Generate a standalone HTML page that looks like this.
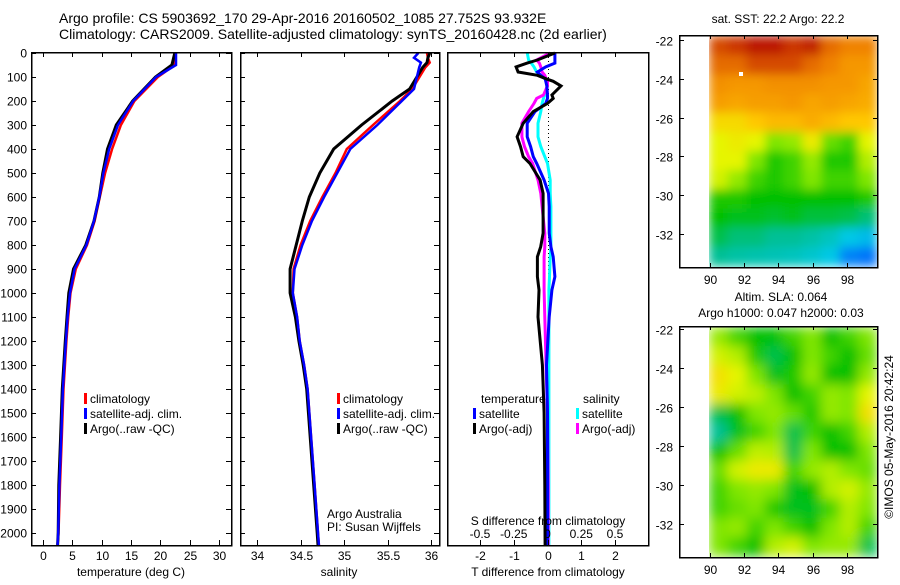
<!DOCTYPE html>
<html><head><meta charset="utf-8">
<style>
html,body{margin:0;padding:0;background:#fff;}
svg text{font-family:"Liberation Sans",sans-serif;font-size:12px;fill:#000;}
</style></head>
<body>
<svg id="fig" width="900" height="580" viewBox="0 0 900 580" xmlns="http://www.w3.org/2000/svg" shape-rendering="crispEdges">
<text x="59" y="23" style="font-size:14px">Argo profile: CS 5903692_170 29-Apr-2016 20160502_1085 27.752S 93.932E</text>
<text x="59" y="39" style="font-size:14px">Climatology: CARS2009. Satellite-adjusted climatology: synTS_20160428.nc (2d earlier)</text>
<g id="p1"></g>
<g id="p2"></g>
<g id="p3"></g>
<g id="m1"></g>
<g id="m2"></g>
<text transform="translate(893,437) rotate(-90)" text-anchor="middle">©IMOS 05-May-2016 20:42:24</text>
</svg>
<script>
// ---- data ----
const tDepth = [0,50,100,200,300,400,500,600,700,800,900,1000,1100,1200,1400,1600,1800,2000,2050];
const tClim  = [22.5,22.5,19.6,15.6,13.3,11.8,10.6,9.7,8.8,7.5,5.6,4.7,4.3,4.0,3.5,3.2,2.9,2.65,2.5];
const tSat   = [22.7,22.7,19.3,15.4,12.8,11.3,10.3,9.6,8.7,7.4,5.4,4.6,4.2,3.9,3.4,3.1,2.8,2.6,2.5];
const tArgo  = [22.5,22.0,19.2,15.3,12.5,11.0,10.2,9.6,8.7,7.3,5.2,4.4,4.1,3.8,3.3,3.0,2.7,2.6,2.5];
const sDepth = [0,20,40,60,150,200,300,400,500,600,700,800,900,1000,1100,1200,1300,1400,1600,1800,2000,2050];
const sClim  = [35.95,35.96,35.98,35.93,35.78,35.64,35.33,35.03,34.9,34.75,34.61,34.5,34.42,34.41,34.46,34.49,34.54,34.58,34.62,34.66,34.7,34.71];
const sSat   = [35.85,35.8,35.88,35.86,35.8,35.66,35.38,35.07,34.92,34.77,34.63,34.52,34.43,34.41,34.46,34.49,34.54,34.58,34.62,34.66,34.7,34.71];
const sArgo  = [35.98,35.96,35.95,35.9,35.75,35.55,35.2,34.88,34.72,34.6,34.52,34.45,34.38,34.38,34.44,34.48,34.53,34.57,34.61,34.65,34.69,34.7];
const dDepth = [0,29,42,58,79,93,107,118,137,175,189,210,244,293,349,390,432,460,529,585,640,751,807,849,932,988,1100,1300,1500,1800,2050];
const dTArgo = [0.22,-0.3,-0.6,-0.93,-0.87,-0.3,-0.05,0.17,0.4,0.13,0.17,0.0,-0.42,-0.72,-0.9,-0.8,-0.72,-0.52,-0.22,-0.13,-0.13,-0.13,-0.2,-0.3,-0.3,-0.25,-0.28,-0.15,-0.1,-0.08,-0.07];
const dTSat  = [0.22,0.22,0.22,-0.05,-0.3,-0.2,-0.07,-0.05,-0.02,0.0,0.0,-0.05,-0.37,-0.6,-0.6,-0.5,-0.42,-0.32,-0.1,0.03,0.05,0.05,0.1,0.17,0.22,0.13,0.05,-0.03,0.0,0.0,0.0];
const dSArgo = [0.02,-0.08,-0.06,-0.05,-0.04,-0.02,-0.01,0.0,0.0,-0.03,-0.08,-0.1,-0.14,-0.19,-0.19,-0.17,-0.14,-0.11,-0.07,-0.05,-0.04,-0.02,-0.02,-0.025,-0.025,-0.025,-0.02,-0.01,0.0,0.005,0.005];
const dSSat  = [-0.15,-0.14,-0.12,-0.1,-0.08,-0.05,-0.02,0.0,0.0,-0.02,-0.03,-0.04,-0.05,-0.07,-0.07,-0.05,-0.02,0.0,0.02,0.02,0.025,0.025,0.025,0.02,0.015,0.01,0.01,0.01,0.01,0.01,0.01];
const depthTicks = [0,100,200,300,400,500,600,700,800,900,1000,1100,1200,1300,1400,1500,1600,1700,1800,1900,2000];
const tTicks = [0,5,10,15,20,25,30];
const sTicks = [34,34.5,35,35.5,36];
const dTTicks = [-2,-1,0,1,2];
const dSTicks = [-0.5,-0.25,0,0.25,0.5];
const dSTickLabels = ["-0.5","-0.25","0","0.25","0.5"];
const lonTicks = [90,92,94,96,98];
const latTicks = [-22,-24,-26,-28,-30,-32];
const sstGrid = [
 [.93,.95,.98,.98,.95,.97,.9,.88,.88],
 [.9,.9,.93,.93,.93,.9,.88,.85,.85],
 [.86,.85,.85,.86,.86,.86,.85,.85,.83],
 [.84,.83,.84,.84,.85,.83,.84,.83,.82],
 [.75,.75,.78,.8,.8,.82,.8,.78,.78],
 [.7,.72,.7,.6,.62,.72,.58,.55,.7],
 [.7,.7,.6,.52,.55,.62,.52,.52,.65],
 [.68,.62,.55,.52,.55,.6,.55,.55,.6],
 [.52,.52,.5,.5,.5,.5,.5,.5,.52],
 [.5,.48,.48,.47,.48,.46,.46,.45,.42],
 [.45,.42,.42,.4,.4,.38,.35,.3,.28],
 [.4,.38,.37,.36,.35,.33,.3,.2,.18]];
const slaGrid = [
 [.62,.55,.5,.5,.55,.6,.5,.55,.6],
 [.68,.65,.52,.45,.5,.6,.55,.5,.58],
 [.74,.7,.6,.48,.52,.62,.5,.5,.62],
 [.72,.68,.66,.6,.5,.55,.62,.6,.7],
 [.45,.5,.6,.62,.58,.52,.62,.6,.74],
 [.4,.48,.55,.6,.45,.55,.5,.55,.65],
 [.5,.58,.66,.65,.45,.6,.5,.5,.6],
 [.58,.68,.72,.72,.55,.62,.65,.6,.58],
 [.55,.6,.62,.6,.48,.5,.65,.68,.62],
 [.55,.58,.6,.52,.48,.48,.55,.65,.6],
 [.6,.62,.55,.6,.55,.5,.6,.65,.55],
 [.6,.55,.5,.65,.68,.6,.62,.62,.45]];
const argoLon = 91.8, argoLat = -23.75;

// ---- helpers ----
const NS='http://www.w3.org/2000/svg';
function mk(parent,tag,attrs){const e=document.createElementNS(NS,tag);for(const k in attrs)e.setAttribute(k,attrs[k]);parent.appendChild(e);return e;}
function txt(parent,x,y,s,anchor){const e=mk(parent,'text',{x:x,y:y,'text-anchor':anchor||'start'});e.textContent=s;return e;}
const depthY = d => 53 + d*0.24;
function box(g,x0,x1,y0,y1){
  const r=mk(g,'rect',{x:x0+0.5,y:y0+0.5,width:x1-x0,height:y1-y0,fill:'none',stroke:'#000','stroke-width':1.5});
  
}
function depthAxis(g,x0,x1,labels){
  depthTicks.forEach(d=>{const y=Math.round(depthY(d))+0.5;
    const t1=mk(g,'line',{x1:x0,x2:x0+5,y1:y,y2:y,stroke:'#000'});
    
    mk(g,'line',{x1:x1-5,x2:x1,y1:y,y2:y,stroke:'#000'});
    if(labels){const t=txt(g,x0-4,y+4,String(d),'end');
      }
  });
}
function xAxis(g,ticks,labs,fx,y0,y1,ly){
  ticks.forEach((v,i)=>{const x=Math.round(fx(v))+0.5;
    const l=mk(g,'line',{x1:x,x2:x,y1:y1-5,y2:y1,stroke:'#000'});
    
    mk(g,'line',{x1:x,x2:x,y1:y0,y2:y0+5,stroke:'#000'});
    const t=txt(g,x,ly,labs[i],'middle');
    
  });
}
function line(g,xs,ds,fx,color,w,name){
  const pts=xs.map((v,i)=>fx(v).toFixed(1)+','+depthY(ds[i]).toFixed(1)).join(' ');
  const p=mk(g,'polyline',{points:pts,fill:'none',stroke:color,'stroke-width':w,'shape-rendering':'auto'});
  
}
function legend(g,x,y,items){
  items.forEach((it,i)=>{
    const r=mk(g,'rect',{x:x,y:y+i*15-10,width:3,height:11,fill:it[1]});
    
    const t=txt(g,x+6,y+i*15,it[0]);
    
  });
}

// ---- panel 1: temperature ----
const p1=document.getElementById('p1');
const fT = v => 43 + v*5.86;
line(p1,tClim,tDepth,fT,'#f00',2.5,'temperature-climatology-line');
line(p1,tArgo,tDepth,fT,'#000',3,'temperature-argo-line');
line(p1,tSat,tDepth,fT,'#00f',2.5,'temperature-satellite-line');
box(p1,31,231,52,545);
depthAxis(p1,31,231,true);
xAxis(p1,tTicks,tTicks.map(String),fT,52,545,560);
const a1=txt(p1,131,576,'temperature (deg C)','middle');
legend(p1,84,403,[['climatology','#f00'],['satellite-adj. clim.','#00f'],['Argo(..raw -QC)','#000']]);

// ---- panel 2: salinity ----
const p2=document.getElementById('p2');
const fS = v => 257 + (v-34)*87.2;
line(p2,sClim,sDepth,fS,'#f00',2.5,'salinity-climatology-line');
line(p2,sArgo,sDepth,fS,'#000',3,'salinity-argo-line');
line(p2,sSat,sDepth,fS,'#00f',2.5,'salinity-satellite-line');
box(p2,240,439,52,545);
depthAxis(p2,240,439,false);
xAxis(p2,sTicks,sTicks.map(String),fS,52,545,560);
const a2=txt(p2,339,576,'salinity','middle');
legend(p2,337,403,[['climatology','#f00'],['satellite-adj. clim.','#00f'],['Argo(..raw -QC)','#000']]);
const n1=txt(p2,327,518,'Argo Australia');
const n2=txt(p2,327,531,'PI: Susan Wijffels');

// ---- panel 3: differences ----
const p3=document.getElementById('p3');
const fD = v => 547.5 + v*33.8;
const fDS = v => 547.5 + v*135;
const z=mk(p3,'line',{x1:548.5,x2:548.5,y1:53,y2:545,stroke:'#000','stroke-dasharray':'1,3'});

line(p3,dSSat,dDepth,fDS,'#0ff',3,'salinity-satellite-diff-line');
line(p3,dSArgo,dDepth,fDS,'#f0f',3,'salinity-argo-diff-line');
line(p3,dTSat,dDepth,fD,'#00f',3,'temperature-satellite-diff-line');
line(p3,dTArgo,dDepth,fD,'#000',3,'temperature-argo-diff-line');
box(p3,447,648,52,545);
xAxis(p3,dTTicks,dTTicks.map(String),fD,52,545,560);
dSTicks.forEach((v,i)=>{const t=txt(p3,fDS(v),538,dSTickLabels[i],'middle');
  });
const s3=txt(p3,548,525,'S difference from climatology','middle');
const a3=txt(p3,548,576,'T difference from climatology','middle');
const h1=txt(p3,481,403,'temperature');
const h2=txt(p3,583,403,'salinity');
legend(p3,473,418,[['satellite','#00f'],['Argo(-adj)','#000']]);
legend(p3,576,418,[['satellite','#0ff'],['Argo(-adj)','#f0f']]);

// ---- maps ----
const stops=[[0,[0,0,160]],[0.15,[0,96,255]],[0.3,[0,200,230]],[0.4,[0,192,150]],[0.5,[0,192,0]],[0.6,[128,230,0]],[0.7,[230,245,0]],[0.78,[255,200,0]],[0.88,[240,130,0]],[1,[176,0,0]]];
function cmap(v){for(let i=1;i<stops.length;i++){if(v<=stops[i][0]){const a=stops[i-1],b=stops[i],t=(v-a[0])/(b[0]-a[0]);
  const c=a[1].map((x,k)=>Math.round(x+(b[1][k]-x)*t));return 'rgb('+c.join(',')+')';}}return 'rgb(176,0,0)';}
function map(id,grid,top,bot,latTop,latBot,title1,title2,marker){
  const g=document.getElementById(id);
  const fLon = v => 710 + (v-90)*17.1;
  const fLat = v => latTop + (-22 - v)*(latBot-latTop)/10;
  const x0=709,x1=877,y0=top+1,y1=bot-1;
  const nr=grid.length,nc=grid[0].length,cw=(x1-x0)/nc,ch=(y1-y0)/nr;
  const fid='blur'+id;
  const f=mk(g,'filter',{id:fid,x:'0',y:'0',width:'1',height:'1'});
  mk(f,'feGaussianBlur',{stdDeviation:id==='m2'?6:5,edgeMode:'duplicate'});
  const cg=mk(g,'g',{filter:'url(#'+fid+')'});
  grid.forEach((row,r)=>row.forEach((v,c)=>{
    const e=mk(cg,'rect',{x:(x0+c*cw).toFixed(1),y:(y0+r*ch).toFixed(1),width:(cw+0.6).toFixed(1),height:(ch+0.6).toFixed(1),fill:cmap(v)});
    
  }));
  if(marker){const m=mk(g,'rect',{x:fLon(argoLon)-2,y:fLat(argoLat)-2,width:4,height:4,fill:'#fff'});
    }
  box(g,679,877,top,bot);
  lonTicks.forEach(v=>{const x=Math.round(fLon(v))+0.5;
    mk(g,'line',{x1:x,x2:x,y1:top,y2:top+4,stroke:'#000'});
    mk(g,'line',{x1:x,x2:x,y1:bot-4,y2:bot,stroke:'#000'});
    const t=txt(g,x,bot+17,String(v),'middle');});
  latTicks.forEach(v=>{const y=Math.round(fLat(v))+0.5;
    mk(g,'line',{x1:679,x2:684,y1:y,y2:y,stroke:'#000'});
    mk(g,'line',{x1:873,x2:878,y1:y,y2:y,stroke:'#000'});
    const t=txt(g,673,y+5,String(v),'end');});
  const t1=txt(g,title2?781:778,title2?top-25:top-12,title1,'middle');
  if(title2){const t2=txt(g,781,top-9,title2,'middle');}
}
map('m1',sstGrid,35,267,40,234,'sat. SST: 22.2 Argo: 22.2',null,true);
map('m2',slaGrid,326,557,329,524,'Altim. SLA: 0.064','Argo h1000: 0.047 h2000: 0.03',false);
</script>
</body></html>
